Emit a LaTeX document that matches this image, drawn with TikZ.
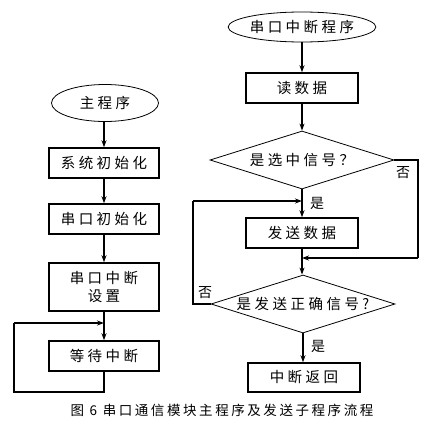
\documentclass[tikz,border=0pt]{standalone}
\usepackage{fontspec}
\newfontfamily\cjk[LetterSpace=24]{Noto Sans CJK SC}
\newfontfamily\cjkcap[LetterSpace=19]{Noto Sans CJK SC}
\newfontfamily\cjkplain{Noto Sans CJK SC}
\usetikzlibrary{shapes.geometric,arrows.meta}
\tikzset{
  box/.style={draw,line width=1.5pt,minimum width=110pt,minimum height=30pt,inner sep=0pt,
    font=\cjk\fontsize{14.5}{16}\selectfont},
  term/.style={draw,ellipse,line width=0.8pt,inner sep=0pt,
    font=\cjk\fontsize{14.5}{16}\selectfont},
  dec/.style={draw,diamond,line width=0.8pt,shape aspect=3.4,inner sep=0pt,
    minimum width=184pt,minimum height=58pt,font=\cjk\fontsize{14.5}{16}\selectfont},
  lab/.style={inner sep=0pt,font=\cjkplain\fontsize{14}{15}\selectfont},
  conn/.style={line width=1.4pt,-{Stealth[length=7pt,width=5pt]}},
  line/.style={line width=1.4pt},
}
\begin{document}
\begin{tikzpicture}[x=1pt,y=-1pt]
\useasboundingbox (0,0) rectangle (423,431);
% left column
\node[term,minimum width=107pt,minimum height=37pt] (e1) at (105,103) {主程序};
\node[box] (b1) at (104,163) {系统初始化};
\node[box] (b2) at (104,219) {串口初始化};
\node[box,minimum height=48pt,align=center] (b3) at (104,287) {串口中断\\[2pt]设置};
\node[box] (b4) at (104,356) {等待中断};
\draw[conn] (e1.south -| b1.north) -- (b1);
\draw[conn] (b1) -- (b2);
\draw[conn] (b2) -- (b3);
\draw[conn] (b3) -- (b4);
\coordinate (l1) at (104,392);
\coordinate (l2) at (14,392);
\coordinate (l3) at (14,323);
\coordinate (l4) at (104,323);
\draw[line] (b4.south) -- (l1) -- (l2) -- (l3);
\draw[conn] (l3) -- (l4);
% right column
\node[term,minimum width=138pt,minimum height=30pt] (e2) at (302,27) {串口中断程序};
\node[box,minimum width=112pt] (r1) at (302,88) {读数据};
\node[dec] (d1) at (302,160) {是选中信号？};
\node[box,minimum width=112pt] (r2) at (302,233) {发送数据};
\node[dec] (d2) at (303,304) {是发送正确信号?};
\node[box,minimum width=112pt,minimum height=29pt] (r3) at (304,377.5) {中断返回};
\draw[conn] (e2) -- (r1);
\draw[conn] (r1) -- (d1);
\draw[conn] (d1) -- (r2);
\draw[conn] (r2.south) -- (r2.south |- d2.north);
\draw[conn] (d2.south) -- (d2.south |- r3.north);
% no branch of d1
\coordinate (n1) at (418,160);
\coordinate (n2) at (418,258);
\coordinate (n3) at (302,258);
\draw[line] (d1.east) -- (n1) -- (n2);
\draw[conn] (n2) -- (n3);
% no branch of d2
\coordinate (m1) at (193,304);
\coordinate (m2) at (193,201);
\coordinate (m3) at (302,201);
\draw[line] (d2.west) -- (m1) -- (m2);
\draw[conn] (m2) -- (m3);
% labels
\node[lab] (t1) at (403,173) {否};
\node[lab] (t2) at (317,203) {是};
\node[lab] (t3) at (205,293) {否};
\node[lab] (t4) at (318,346) {是};
% caption
\node[inner sep=0pt,font=\cjkcap\fontsize{13.5}{15}\selectfont] (cap) at (222,410) {图 6 串口通信模块主程序及发送子程序流程};
\end{tikzpicture}
\end{document}
